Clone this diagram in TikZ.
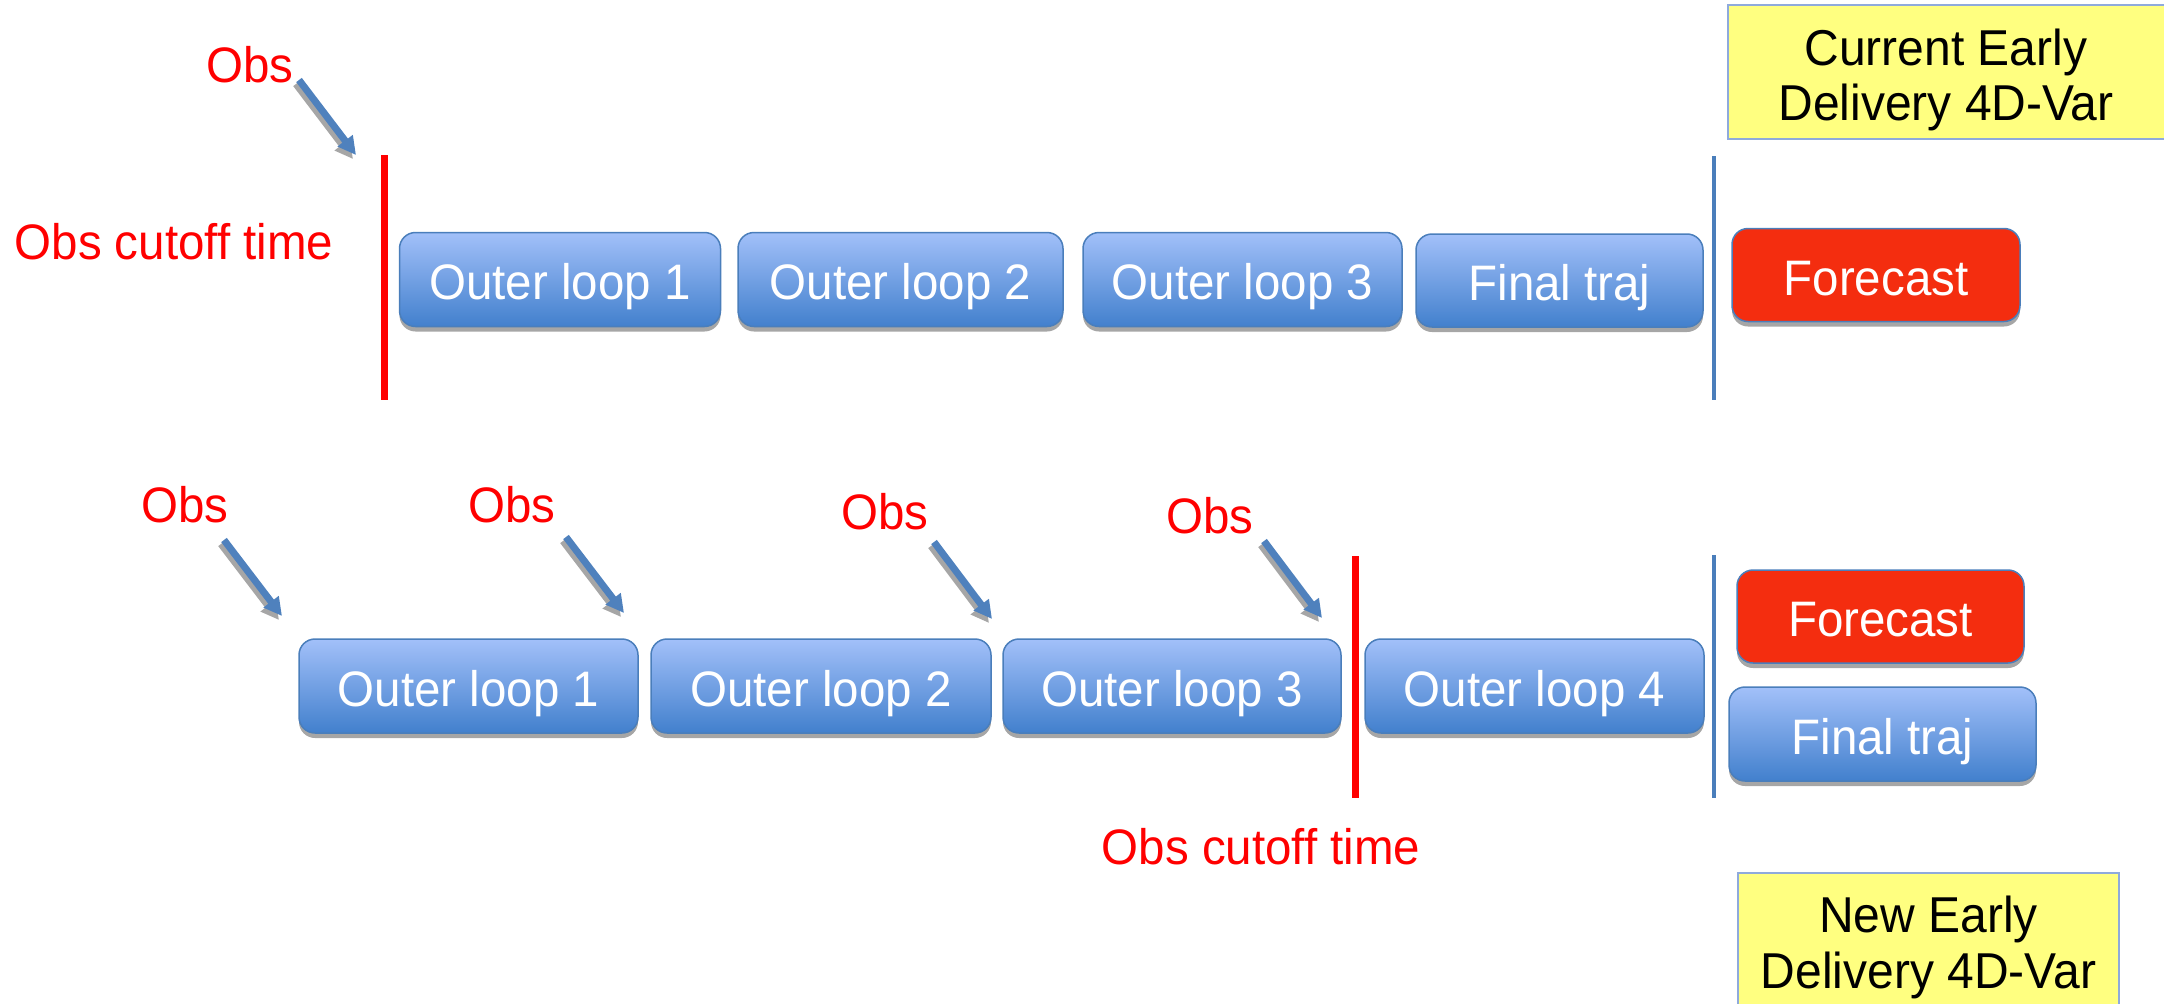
\documentclass[tikz,border=0pt]{standalone}
\usepackage{fontspec}
\setmainfont{Liberation Sans}
\usepackage{graphicx}
\usetikzlibrary{shadows,arrows.meta}

\definecolor{loopTop}{HTML}{A2C0F9}
\definecolor{loopBot}{HTML}{4280CD}
\definecolor{loopEdge}{HTML}{4A7EBB}
\definecolor{fcRed}{HTML}{F42D0F}
\definecolor{noteYellow}{HTML}{FFFF80}
\definecolor{noteEdge}{HTML}{8FAADC}
\definecolor{arrowBlue}{HTML}{4F81BD}
\definecolor{obsRed}{HTML}{FF0000}

% slightly tall lettering
\newcommand{\tall}[1]{\scalebox{1}[1.05]{#1}}

\tikzset{
  every node/.style={font=\fontsize{47.5}{56}\selectfont},
  stage/.style={rounded corners=16pt, draw=loopEdge, line width=1.5pt,
    text=white, inner sep=0pt, text height=40pt, text depth=0pt,
    drop shadow={shadow xshift=0pt, shadow yshift=-5pt, fill=black!35, opacity=1}},
  loopbox/.style={stage, top color=loopTop, bottom color=loopBot},
  fcbox/.style={stage, fill=fcRed},
  note/.style={draw=noteEdge, line width=1.5pt, fill=noteYellow, inner sep=0pt},
  notetext/.style={anchor=base, inner sep=0pt, text=black,
    font=\fontsize{48}{56}\selectfont},
  obslabel/.style={text=obsRed, inner sep=0pt},
  obsarrow/.style={draw=arrowBlue, line width=7pt,
    -{Triangle[length=18pt,width=18pt]}},
  obsshadow/.style={draw=black!35, line width=7pt,
    -{Triangle[length=18pt,width=18pt]}},
  cutoff/.style={draw=obsRed, line width=7pt},
  endline/.style={draw=loopEdge, line width=4pt},
}

\begin{document}
\begin{tikzpicture}[x=1pt,y=-1pt]
\useasboundingbox (0,0) rectangle (2164,1004);

% ---------- current early delivery ----------
\node[note, minimum width=438pt, minimum height=134pt] (curNote) at (1947,72) {};
\node[notetext] (curNote1) at (1946,65)  {\tall{Current Early}};
\node[notetext] (curNote2) at (1946,120) {\tall{Delivery 4D-Var}};

\node[obslabel] (obsA) at (250,65) {\tall{Obs}};
\node[obslabel] (cutA) at (174,242) {\tall{Obs cutoff time}};

\draw[cutoff] (384,155) -- (384,400);
\draw[endline] (1714,156) -- (1714,400);

\node[loopbox, minimum width=321pt, minimum height=94pt] (aL1) at (560,279.5) {\tall{Outer loop 1}};
\node[loopbox, minimum width=325pt, minimum height=94pt] (aL2) at (900.5,279.5) {\tall{Outer loop 2}};
\node[loopbox, minimum width=319pt, minimum height=94pt] (aL3) at (1242.5,279.5) {\tall{Outer loop 3}};
\node[loopbox, minimum width=287pt, minimum height=93pt] (aFT) at (1559.5,280.5) {\tall{Final traj}};
\node[fcbox, minimum width=288pt, minimum height=93pt] (aFC) at (1876,275) {\tall{Forecast}};

\coordinate (aS) at (299,80);
\coordinate (aE) at (356,155);
\draw[obsshadow] ([shift={(-3,4)}]aS) -- ([shift={(-3,4)}]aE);
\draw[obsarrow] (aS) -- (aE);

% ---------- new early delivery ----------
\node[obslabel] (obsB1) at (185,505) {\tall{Obs}};
\node[obslabel] (obsB2) at (512,505) {\tall{Obs}};
\node[obslabel] (obsB3) at (885,512) {\tall{Obs}};
\node[obslabel] (obsB4) at (1210,516) {\tall{Obs}};

\draw[cutoff] (1355,556) -- (1355,798);
\draw[endline] (1714,555) -- (1714,798);

\node[loopbox, minimum width=339pt, minimum height=94pt] (bL1) at (468.5,686) {\tall{Outer loop 1}};
\node[loopbox, minimum width=340pt, minimum height=94pt] (bL2) at (821,686) {\tall{Outer loop 2}};
\node[loopbox, minimum width=338pt, minimum height=94pt] (bL3) at (1172,686) {\tall{Outer loop 3}};
\node[loopbox, minimum width=339pt, minimum height=94pt] (bL4) at (1534.5,686) {\tall{Outer loop 4}};
\node[fcbox, minimum width=287pt, minimum height=93pt] (bFC) at (1880.5,616.5) {\tall{Forecast}};
\node[loopbox, minimum width=307pt, minimum height=94pt] (bFT) at (1882.5,734) {\tall{Final traj}};

\node[obslabel] (cutB) at (1261,847) {\tall{Obs cutoff time}};

\node[note, minimum width=381pt, minimum height=140pt] (newNote) at (1928.5,943) {};
\node[notetext] (newNote1) at (1928.5,932) {\tall{New Early}};
\node[notetext] (newNote2) at (1928.5,988) {\tall{Delivery 4D-Var}};

\coordinate (b1S) at (224,540);  \coordinate (b1E) at (282,616);
\coordinate (b2S) at (566,537);  \coordinate (b2E) at (624,613);
\coordinate (b3S) at (934,542);  \coordinate (b3E) at (992,619);
\coordinate (b4S) at (1264,541); \coordinate (b4E) at (1322,618);
\foreach \k in {b1,b2,b3,b4}{
  \draw[obsshadow] ([shift={(-3,4)}]\k S) -- ([shift={(-3,4)}]\k E);
  \draw[obsarrow] (\k S) -- (\k E);
}
\end{tikzpicture}
\end{document}
